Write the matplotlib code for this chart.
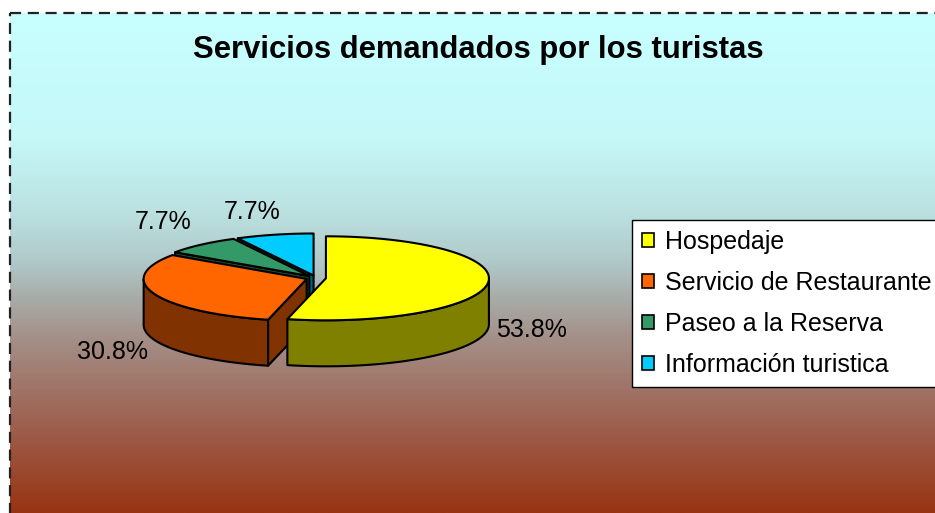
import numpy as np
import matplotlib
matplotlib.use("Agg")
import matplotlib.pyplot as plt
from matplotlib.colors import LinearSegmentedColormap
from matplotlib.patches import Polygon, Rectangle, Patch

plt.rcParams['font.family'] = ['Liberation Sans', 'DejaVu Sans']

# data
labels = ['Hospedaje', 'Servicio de Restaurante', 'Paseo a la Reserva', 'Información turistica']
values = [53.8, 30.8, 7.7, 7.7]
top_colors = ['#FFFF00', '#FF6600', '#339966', '#00CCFF']
side_colors = ['#808000', '#803300', '#1A4D33', '#006680']
pct_text = ['53.8%', '30.8%', '7.7%', '7.7%']

W, H = 935, 513
fig = plt.figure(figsize=(W / 100, H / 100), dpi=100)
ax = fig.add_axes([0, 0, 1, 1])
ax.set_xlim(0, W)
ax.set_ylim(H, 0)
ax.axis('off')

# gradient background inside the dashed frame
grad = LinearSegmentedColormap.from_list('bg', [
    (0.0, '#C8FFFF'), (0.25, '#C6F8F8'), (0.4, '#BBE0E0'),
    (0.5, '#B0C8C8'), (0.57, '#A8ACA8'), (0.65, '#A49088'),
    (0.75, '#A07468'), (0.87, '#9C5440'), (1.0, '#983412')])
g = np.linspace(0, 1, 256).reshape(-1, 1)
ax.imshow(g, cmap=grad, aspect='auto', extent=[10, W + 5, H, 13], zorder=0)
ax.add_patch(Rectangle((10, 13), W, H, fill=False, ec='#222222', lw=1.6,
                       ls=(0, (5, 3)), zorder=1))

ax.text(478, 50, 'Servicios demandados por los turistas', ha='center', va='center',
        fontsize=22.3, fontweight='bold', zorder=5)

# 3D pie, pixel geometry
cx, cy = 316, 278
rx, ry = 163, 42
depth = 46
expl = 10 / rx

fr = np.array(values) / sum(values)
ends = 90 - 360 * np.cumsum(fr)
starts = ends + 360 * fr          # clockwise from 12 o'clock
a1s = ends                        # ccw start
a2s = starts                      # ccw end


def proj(th, r, z, ox, oy):
    t = np.radians(th)
    return np.column_stack([cx + ox + r * rx * np.cos(t), cy + oy - r * ry * np.sin(t) + z])


slices = []
for i in range(len(values)):
    a1, a2 = a1s[i], a2s[i]
    m = np.radians((a1 + a2) / 2)
    ox, oy = expl * rx * np.cos(m), -expl * ry * np.sin(m)
    slices.append((i, a1, a2, ox, oy))

kw = dict(ec='black', lw=1.5, joinstyle='round')
z = 2
for i, a1, a2, ox, oy in reversed(slices):
    ang = np.linspace(a1, a2, 200)
    # outer wall, front part only
    t = np.mod(ang, 360)
    front = t >= 180
    if front.any():
        idx = np.where(front)[0]
        runs = np.split(idx, np.where(np.diff(idx) != 1)[0] + 1)
        for run in runs:
            th = ang[run]
            topp = proj(th, 1, 0, ox, oy)
            bot = proj(th, 1, depth, ox, oy)[::-1]
            ax.add_patch(Polygon(np.vstack([topp, bot]), fc=side_colors[i], zorder=z, **kw))
    # radial walls facing viewer
    for a, vis in ((a1, np.cos(np.radians(a1)) > 1e-9), (a2, np.cos(np.radians(a2)) < -1e-9)):
        if vis:
            p = proj(np.array([a, a]), np.array([0, 1]), 0, ox, oy)
            q = proj(np.array([a, a]), np.array([1, 0]), depth, ox, oy)
            ax.add_patch(Polygon(np.vstack([p, q]), fc=side_colors[i], zorder=z, **kw))
    # top face
    rim = proj(ang, 1, 0, ox, oy)
    ctr = proj(np.array([0.0]), 0, 0, ox, oy)
    ax.add_patch(Polygon(np.vstack([ctr, rim]), fc=top_colors[i], zorder=z + 0.5, **kw))
    z += 1

# percentage labels
lab_pos = [(531, 330), (112, 352), (163, 222), (252, 212)]
for (x, y), s in zip(lab_pos, pct_text):
    ax.text(x, y, s, ha='center', va='center', fontsize=18, zorder=10)

handles = [Patch(fc=c, ec='black', lw=1.2) for c in top_colors]
leg = ax.legend(handles, labels, loc='upper left', bbox_to_anchor=(632 / W, 1 - 220 / H),
                borderaxespad=0, fontsize=18, frameon=True, fancybox=False, framealpha=1,
                handlelength=0.48, handleheight=0.48, handletextpad=0.44,
                labelspacing=0.68, borderpad=0.4)
leg.get_frame().set_edgecolor('black')
leg.get_frame().set_linewidth(1.0)
leg.set_zorder(20)

fig.savefig('out.png', dpi=100)
